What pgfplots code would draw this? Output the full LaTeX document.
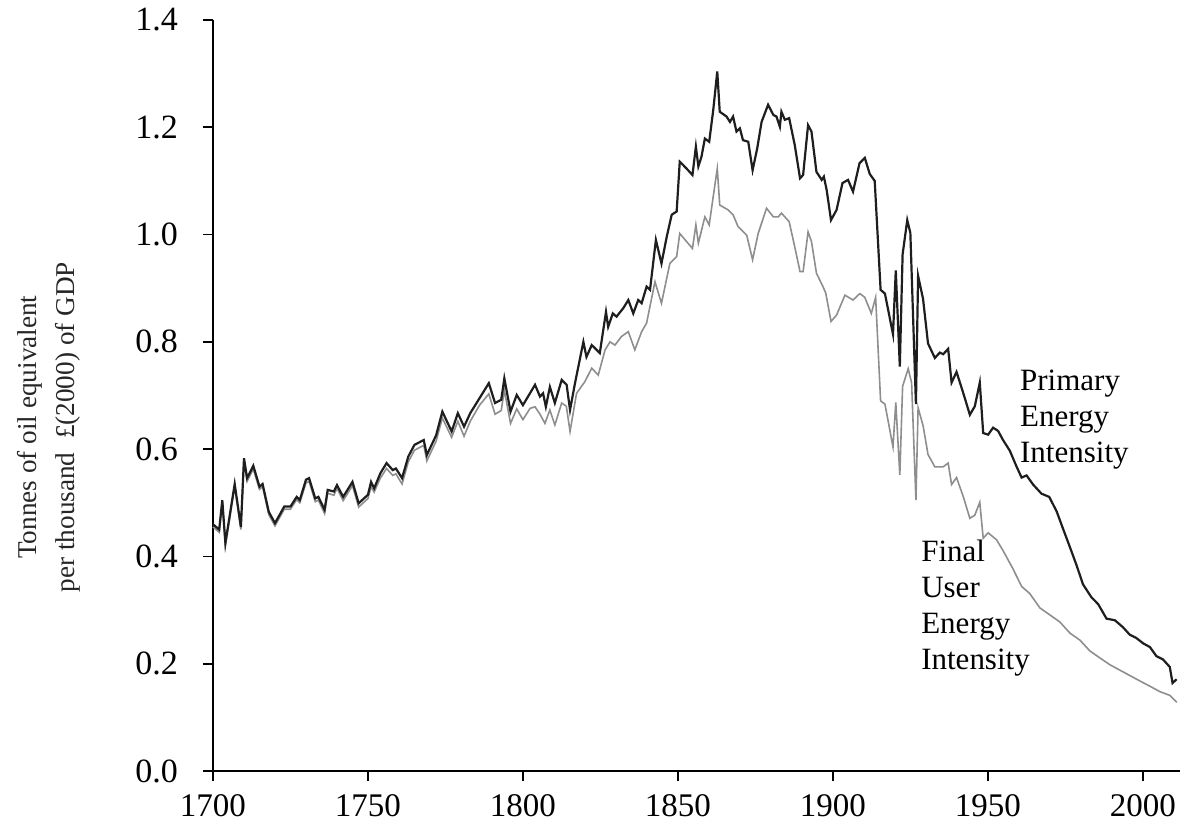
\documentclass[border=0pt]{standalone}
\usepackage{pgfplots}
\pgfplotsset{compat=1.18}
\usepackage{fontspec}
\setmainfont{Liberation Serif}
\definecolor{primaryc}{HTML}{1E1E1E}
\definecolor{finalc}{HTML}{8E8E8E}
\begin{document}
\begin{tikzpicture}
\begin{axis}[
  scale only axis,
  width=483.5pt, height=375.5pt,
  xmin=1700, xmax=2012, ymin=0, ymax=1.4,
  axis lines=left,
  axis line style={-, line width=0.9pt, black},
  tick align=outside,
  major tick length=5pt,
  tick style={line width=0.8pt, black},
  xtick={1700,1750,...,2000},
  ytick={0,0.2,...,1.41},
  minor tick num=0,
  /pgf/number format/assume math mode=true,
  xticklabel style={/pgf/number format/1000 sep={}, font=\fontsize{16.5}{19}\selectfont},
  xticklabel shift=3pt,
  yticklabel style={/pgf/number format/fixed, /pgf/number format/fixed zerofill, /pgf/number format/precision=1, font=\fontsize{17}{19}\selectfont},
  yticklabel shift=9pt,
  clip=false,
]
\addplot[color=finalc, line width=0.8pt] coordinates {
(1700,0.455)(1702,0.445)(1703,0.500)(1704,0.420)(1707,0.530)(1709,0.450)(1710,0.578)(1711,0.540)(1713,0.563)(1715,0.525)(1716,0.530)(1718,0.478)(1720,0.457)(1723,0.488)(1725,0.488)(1727,0.506)(1728,0.500)(1730,0.537)(1731,0.540)(1733,0.502)(1734,0.505)(1736,0.480)(1737,0.518)(1739,0.514)(1740,0.527)(1742,0.504)(1745,0.532)(1747,0.492)(1750,0.508)(1751,0.530)(1752,0.520)(1754,0.546)(1756,0.564)(1758,0.551)(1759,0.554)(1761,0.535)(1763,0.576)(1765,0.598)(1768,0.607)(1769,0.578)(1772,0.615)(1774,0.658)(1777,0.622)(1779,0.652)(1781,0.624)(1783,0.652)(1786,0.682)(1789,0.703)(1791,0.665)(1793,0.672)(1794,0.710)(1796,0.648)(1798,0.675)(1800,0.655)(1802.3,0.676)(1803.9,0.679)(1805.5,0.665)(1807.1,0.648)(1808.7,0.673)(1810.3,0.645)(1812.5,0.686)(1814,0.680)(1815.2,0.633)(1817.3,0.704)(1820,0.726)(1822.2,0.751)(1824.3,0.738)(1826.5,0.785)(1828.1,0.800)(1829.7,0.794)(1831.8,0.810)(1834,0.819)(1836.1,0.785)(1838.3,0.819)(1839.9,0.835)(1842.6,0.912)(1844.7,0.872)(1847.4,0.946)(1849.6,0.959)(1850.6,1.002)(1852.8,0.987)(1854.7,0.974)(1855.8,1.018)(1856.6,0.984)(1858.7,1.033)(1860.1,1.018)(1861.4,1.071)(1862.7,1.123)(1863.5,1.055)(1866.2,1.046)(1867.8,1.037)(1869.4,1.015)(1872.2,0.999)(1874.1,0.953)(1875.9,1.002)(1878.6,1.049)(1880.8,1.033)(1882.4,1.033)(1883.4,1.040)(1885.9,1.024)(1887.7,0.977)(1889.4,0.931)(1890.4,0.931)(1892,1.005)(1893.1,0.987)(1894.7,0.928)(1896.8,0.903)(1897.7,0.891)(1899.4,0.838)(1901.2,0.850)(1903.9,0.887)(1906.5,0.878)(1908.7,0.890)(1910.3,0.883)(1912.4,0.853)(1913.8,0.883)(1915.4,0.690)(1916.8,0.684)(1919.4,0.604)(1920.3,0.687)(1921.6,0.552)(1922.5,0.717)(1924.3,0.750)(1925.4,0.724)(1926.8,0.505)(1927.5,0.677)(1929.1,0.644)(1930.7,0.590)(1932.9,0.567)(1935.6,0.567)(1937.2,0.574)(1938.3,0.534)(1939.9,0.547)(1942.1,0.511)(1944.2,0.471)(1945.8,0.477)(1947.4,0.501)(1948.5,0.434)(1950.1,0.444)(1952.8,0.431)(1954.9,0.411)(1958.1,0.377)(1960.9,0.344)(1963.5,0.331)(1966.8,0.304)(1970,0.291)(1973.2,0.278)(1976.5,0.257)(1979.7,0.244)(1982.9,0.224)(1986.1,0.211)(1989.4,0.198)(1992.6,0.188)(1995.8,0.178)(1999,0.168)(2002.3,0.158)(2005.5,0.148)(2008.7,0.141)(2011,0.128)
};
\addplot[color=primaryc, line width=1.1pt] coordinates {
(1700,0.460)(1702,0.450)(1703,0.505)(1704,0.425)(1707,0.535)(1709,0.455)(1710,0.583)(1711,0.546)(1713,0.569)(1715,0.530)(1716,0.535)(1718,0.483)(1720,0.462)(1723,0.493)(1725,0.493)(1727,0.511)(1728,0.505)(1730,0.543)(1731,0.546)(1733,0.508)(1734,0.511)(1736,0.487)(1737,0.524)(1739,0.521)(1740,0.533)(1742,0.511)(1745,0.539)(1747,0.499)(1750,0.515)(1751,0.539)(1752,0.527)(1754,0.555)(1756,0.574)(1758,0.561)(1759,0.564)(1761,0.546)(1763,0.586)(1765,0.608)(1768,0.617)(1769,0.589)(1772,0.626)(1774,0.670)(1777,0.633)(1779,0.667)(1781,0.642)(1783,0.667)(1786,0.695)(1789,0.723)(1791,0.686)(1793,0.692)(1794,0.732)(1796,0.670)(1798,0.701)(1800,0.682)(1803.9,0.720)(1805.5,0.698)(1806.5,0.704)(1807.4,0.679)(1808.7,0.716)(1810.3,0.686)(1812.5,0.729)(1814.1,0.720)(1815.2,0.673)(1816.8,0.723)(1819.5,0.800)(1820.5,0.772)(1822.2,0.794)(1823.8,0.785)(1824.8,0.779)(1826.8,0.856)(1827.5,0.828)(1829,0.853)(1830.2,0.847)(1832.4,0.863)(1834,0.878)(1835.6,0.853)(1837.2,0.878)(1838.3,0.872)(1839.9,0.903)(1841,0.897)(1842.9,0.990)(1844.7,0.946)(1846.4,0.996)(1848,1.037)(1849.6,1.043)(1850.6,1.136)(1852.8,1.123)(1854.7,1.111)(1855.8,1.164)(1856.6,1.127)(1857.6,1.145)(1858.7,1.179)(1860.1,1.173)(1861.4,1.232)(1862.7,1.304)(1863.5,1.229)(1865.7,1.220)(1866.8,1.210)(1867.8,1.220)(1868.9,1.192)(1870,1.198)(1871,1.176)(1872.7,1.173)(1874.1,1.120)(1875.6,1.161)(1877,1.210)(1879.1,1.242)(1880.8,1.223)(1881.8,1.220)(1882.9,1.201)(1883.4,1.229)(1884.5,1.214)(1885.9,1.217)(1887.7,1.167)(1889.4,1.105)(1890.4,1.111)(1892,1.204)(1893.1,1.192)(1894.7,1.117)(1896.4,1.102)(1897.1,1.108)(1898,1.083)(1899.4,1.027)(1901.2,1.046)(1903.1,1.096)(1904.9,1.102)(1906.5,1.080)(1908.6,1.133)(1910.3,1.143)(1911.9,1.113)(1913.5,1.100)(1915.4,0.897)(1916.8,0.890)(1919.4,0.814)(1920.3,0.933)(1921.6,0.754)(1922.5,0.963)(1924,1.027)(1925,1.003)(1926.8,0.684)(1927.5,0.923)(1929.1,0.880)(1930.7,0.797)(1932.9,0.770)(1934.5,0.780)(1935.6,0.777)(1937.2,0.787)(1938.3,0.724)(1939.9,0.744)(1942.1,0.704)(1944.2,0.664)(1945.8,0.680)(1947.4,0.724)(1948.5,0.630)(1950.1,0.627)(1951.7,0.640)(1953.3,0.634)(1954.9,0.617)(1957.1,0.597)(1959.3,0.567)(1960.9,0.547)(1962.5,0.551)(1964.6,0.534)(1967.3,0.517)(1969.8,0.511)(1972.2,0.484)(1974.3,0.451)(1976.5,0.417)(1978.6,0.384)(1980.7,0.348)(1983.4,0.324)(1985.6,0.311)(1988.3,0.284)(1991,0.281)(1993.6,0.268)(1995.8,0.254)(1997.9,0.248)(2000.1,0.238)(2002.3,0.231)(2004.4,0.214)(2006.5,0.208)(2008.7,0.194)(2009.6,0.164)(2010.9,0.171)
};
\node[anchor=north west, inner sep=0pt, align=left, font=\fontsize{15.5}{18}\selectfont] at (axis cs:1960.3,0.748) {Primary\\Energy\\Intensity};
\node[anchor=north west, inner sep=0pt, align=left, font=\fontsize{15.5}{18}\selectfont] at (axis cs:1928.4,0.431) {Final\\User\\Energy\\Intensity};
\node[rotate=90, align=center, inner sep=0pt, font=\fontsize{13.6}{19}\selectfont, text=black!85] at ([xshift=-82pt]axis cs:1700,0.641) {Tonnes of oil equivalent\\per thousand \ \pounds(2000) of GDP};
\coordinate (sw) at (rel axis cs:0,0);
\end{axis}
\pgfresetboundingbox
\path[use as bounding box] ([shift={(-106.5pt,-30pt)}]sw) rectangle ++(590pt,415.5pt);
\end{tikzpicture}
\end{document}
